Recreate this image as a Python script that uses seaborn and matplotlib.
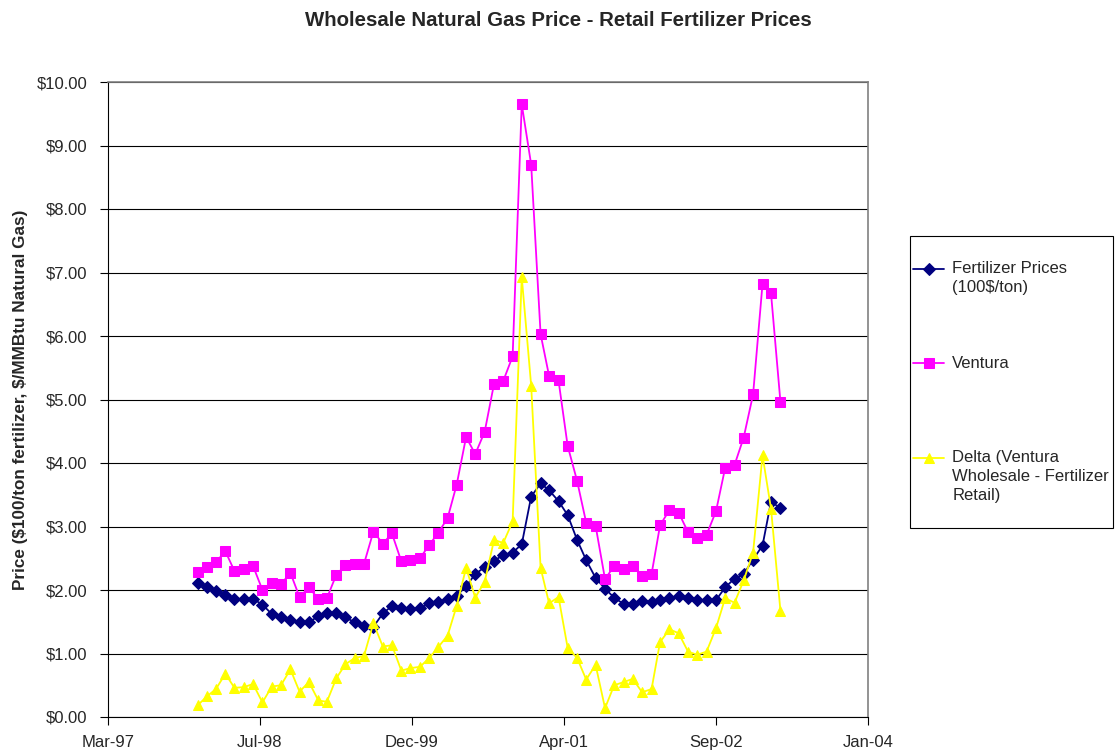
import pandas as pd
import seaborn as sns
import matplotlib.pyplot as plt
import matplotlib.dates as mdates
from matplotlib.patches import Rectangle
from matplotlib.ticker import FuncFormatter, MultipleLocator

# monthly series, Jan-98 .. Apr-03
months = pd.date_range("1998-01-01", periods=64, freq="MS")

fertilizer = [2.11, 2.05, 1.99, 1.92, 1.86, 1.86, 1.86, 1.77, 1.62, 1.58,
              1.53, 1.49, 1.49, 1.59, 1.63, 1.63, 1.57, 1.49, 1.44, 1.42,
              1.63, 1.75, 1.72, 1.70, 1.71, 1.79, 1.81, 1.86, 1.91, 2.06,
              2.25, 2.36, 2.46, 2.55, 2.59, 2.72, 3.47, 3.68, 3.57, 3.40,
              3.18, 2.79, 2.47, 2.19, 2.02, 1.88, 1.78, 1.78, 1.83, 1.81,
              1.84, 1.88, 1.90, 1.88, 1.85, 1.84, 1.84, 2.04, 2.18, 2.25,
              2.48, 2.70, 3.39, 3.29]

ventura = [2.28, 2.37, 2.44, 2.61, 2.30, 2.33, 2.38, 2.00, 2.11, 2.09,
           2.27, 1.89, 2.04, 1.86, 1.87, 2.24, 2.39, 2.41, 2.41, 2.92,
           2.73, 2.89, 2.45, 2.47, 2.50, 2.71, 2.90, 3.13, 3.66, 4.41,
           4.14, 4.49, 5.25, 5.29, 5.68, 9.65, 8.70, 6.03, 5.37, 5.30,
           4.27, 3.72, 3.06, 3.01, 2.17, 2.38, 2.33, 2.38, 2.22, 2.25,
           3.02, 3.26, 3.22, 2.91, 2.82, 2.87, 3.24, 3.92, 3.97, 4.40,
           5.08, 6.82, 6.67, 4.96]

delta = [0.19, 0.33, 0.44, 0.68, 0.46, 0.47, 0.52, 0.23, 0.48, 0.50,
         0.75, 0.40, 0.55, 0.26, 0.24, 0.61, 0.83, 0.93, 0.96, 1.48,
         1.11, 1.13, 0.73, 0.77, 0.79, 0.93, 1.10, 1.28, 1.75, 2.35,
         1.88, 2.13, 2.79, 2.74, 3.08, 6.93, 5.22, 2.35, 1.79, 1.89,
         1.09, 0.93, 0.59, 0.82, 0.14, 0.50, 0.55, 0.60, 0.39, 0.44,
         1.18, 1.38, 1.32, 1.03, 0.98, 1.03, 1.40, 1.87, 1.80, 2.15,
         2.59, 4.12, 3.28, 1.67]

# legend texts padded to 5 lines so the marker sits on the first line (like Excel)
labels = ["\n\nFertilizer Prices\n(100\\$/ton)\n",
          "\n\nVentura\n\n",
          "\n\nDelta (Ventura\nWholesale - Fertilizer\nRetail)"]

df = pd.DataFrame({"month": months, "fert": fertilizer,
                   "ventura": ventura, "delta": delta})

sns.set_style("white")
plt.rcParams["font.family"] = ["Liberation Sans", "DejaVu Sans"]

fig = plt.figure(figsize=(11.16, 7.52), dpi=100)
ax = fig.add_axes([108 / 1116, 1 - 717 / 752, 760 / 1116, 635 / 752])

sns.lineplot(data=df, x="month", y="fert", ax=ax, color="#000080", marker="D",
             markersize=6.5, markeredgecolor="#000080", lw=1.3, label=labels[0])
sns.lineplot(data=df, x="month", y="ventura", ax=ax, color="#FF00FF", marker="s",
             markersize=7, markeredgecolor="#FF00FF", lw=1.3, label=labels[1])
sns.lineplot(data=df, x="month", y="delta", ax=ax, color="#FFFF00", marker="^",
             markersize=7.5, markeredgecolor="#FFFF00", lw=1.3, label=labels[2])

# Excel style date axis: ticks every 500 days from 11-Mar-97
x0 = pd.Timestamp("1997-03-11")
xticks = [x0 + pd.Timedelta(days=500 * k) for k in range(6)]
ax.set_xlim(xticks[0], xticks[-1])
ax.set_xticks(xticks)
ax.xaxis.set_major_formatter(mdates.DateFormatter("%b-%y"))

ax.set_ylim(0, 10)
ax.yaxis.set_major_locator(MultipleLocator(1))
ax.yaxis.set_major_formatter(FuncFormatter(lambda v, p: f"${v:.2f}"))
ax.grid(axis="y", color="black", lw=0.8)
ax.set_axisbelow(True)

for s in ["top", "right"]:
    ax.spines[s].set_color("#808080")
    ax.spines[s].set_linewidth(1.2)
for s in ["left", "bottom"]:
    ax.spines[s].set_color("black")
ax.tick_params(axis="both", direction="out", length=6, width=0.8, color="black",
               labelsize=12, left=True, bottom=True)
ax.tick_params(axis="y", pad=9)
ax.tick_params(axis="x", pad=7)

ax.set_xlabel("")
ax.set_ylabel("Price (\\$100/ton fertilizer, \\$/MMBtu Natural Gas)",
              fontsize=12.3, fontweight="bold", labelpad=6)
fig.suptitle("Wholesale Natural Gas Price - Retail Fertilizer Prices",
             fontsize=14.7, fontweight="bold", y=1 - 20 / 752, va="center")

# legend box drawn as its own rectangle (Excel keeps handles close to the left edge)
fig.patches.append(Rectangle((910 / 1116, 1 - 528 / 752), 203 / 1116, 292 / 752,
                             transform=fig.transFigure, fill=False,
                             edgecolor="black", lw=0.8))
leg = ax.legend(loc="center left", bbox_to_anchor=(913 / 1116, 1 - 363 / 752),
                bbox_transform=fig.transFigure, borderaxespad=0, borderpad=0,
                frameon=False, fontsize=12, labelspacing=0.2,
                handlelength=1.86, handletextpad=0.5)
for t in leg.get_texts():
    t.set_linespacing(1.34)

fig.savefig("out.png", dpi=100)
